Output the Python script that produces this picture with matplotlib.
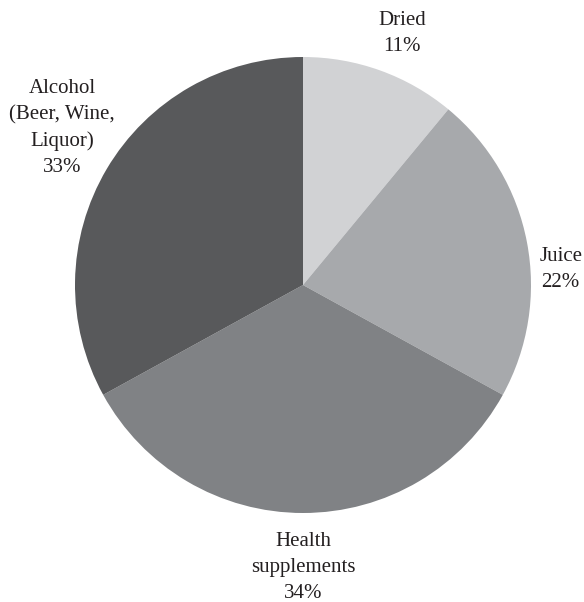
import numpy as np
import matplotlib
matplotlib.use('Agg')
import matplotlib.pyplot as plt

# datos del gráfico
categorias = ['Dried', 'Juice', 'Health\nsupplements', 'Alcohol\n(Beer, Wine,\nLiquor)']
valores = [11, 22, 34, 33]
colores = ['#d1d2d4', '#a7a9ac', '#808285', '#58595b']

# posiciones de las etiquetas (centro del bloque de texto)
pos_etiquetas = [(0.434, 1.105), (1.13, 0.066), (0.0, -1.241), (-1.057, 0.689)]

plt.rcParams['font.family'] = ['Liberation Serif', 'DejaVu Serif']

fig = plt.figure(figsize=(5.84, 6.02), dpi=100)
ax = fig.add_axes([75 / 584, 89 / 602, 456 / 584, 456 / 602])
ax.pie(valores, colors=colores, startangle=90, counterclock=False,
       radius=1, wedgeprops={'linewidth': 0})
ax.set_xlim(-1, 1)
ax.set_ylim(-1, 1)
ax.axis('off')

for cat, val, (x, y) in zip(categorias, valores, pos_etiquetas):
    ax.text(x, y, f"{cat}\n{val}%", ha='center', va='center',
            fontsize=15, color='#231f20', linespacing=1.5, clip_on=False)

fig.savefig('out.png', dpi=100)
